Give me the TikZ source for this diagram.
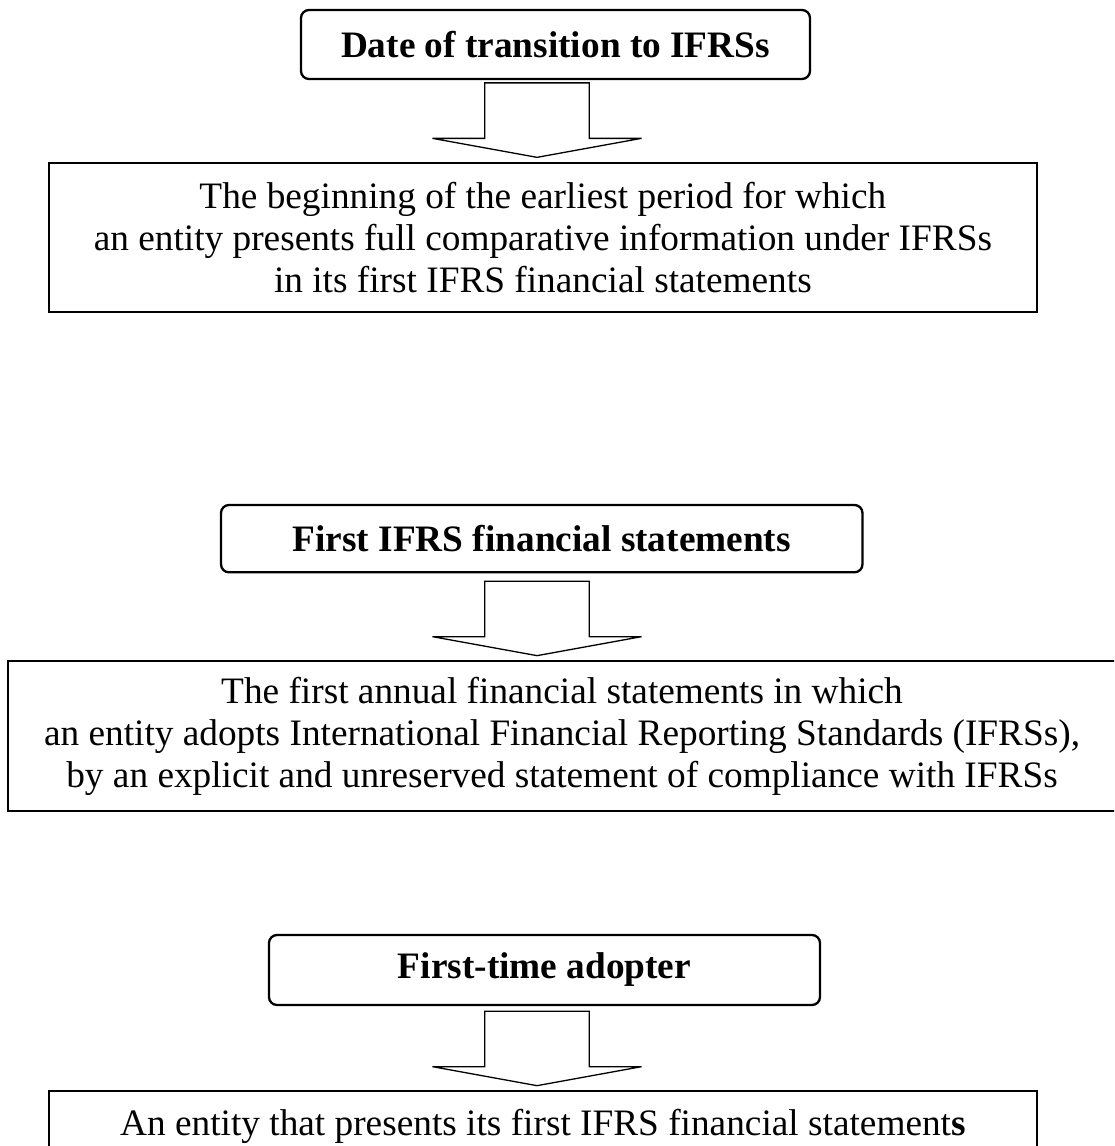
\documentclass[tikz,border=0pt]{standalone}
\usepackage{fontspec}
\setmainfont{Liberation Serif}

\tikzset{
	headbox/.style={draw, line width=2.3pt, rounded corners=8pt, inner sep=0pt,
		font=\fontsize{37.3pt}{42pt}\selectfont\bfseries},
	defbox/.style={draw, line width=2pt, inner sep=0pt, align=center,
		font=\fontsize{37.3pt}{42pt}\selectfont},
	blockarrow/.style={draw, line width=1.3pt, line join=miter},
}

\begin{document}
\begin{tikzpicture}[x=1pt, y=-1pt]
	\newcommand\shafthalf{52.25};
	\newcommand\headhalf{104.5};
	\newcommand\shaftlen{55.5};
	\newcommand\headlen{19};

	\path[use as bounding box] (0,0) rectangle (1114,1146);
	\clip (0,0) rectangle (1114,1146);

	\coordinate (axis) at (537,0);

	% the three terms
	\node[headbox, minimum width=509pt, minimum height=69pt] (date) at (555.5,44.5)
		{Date of transition to IFRSs};
	\node[headbox, minimum width=641.5pt, minimum height=67.3pt] (ifrsfs) at (541.75,538.65)
		{First IFRS financial statements};
	\node[headbox, minimum width=551pt, minimum height=70pt] (adopter) at (544.5,970)
		{First-time adopter};

	% what they mean
	\node[defbox, minimum width=988.3pt, minimum height=149pt] (datedef) at (542.85,237.2)
		{The beginning of the earliest period for which\\
		an entity presents full comparative information under IFRSs\\
		in its first IFRS financial statements};
	\node[defbox, minimum width=1108pt, minimum height=150pt] (ifrsfsdef) at (562,736)
		{The first annual financial statements in which\\
		an entity adopts International Financial Reporting Standards (IFRSs),\\
		by an explicit and unreserved statement of compliance with IFRSs};
	\node[defbox, minimum width=988.3pt, minimum height=72.3pt] (adopterdef) at (542.85,1126.85)
		{An entity that presents its first IFRS financial statement\textbf{s}};

	% hollow arrows down
	\foreach \src/\gap in {date/2.7, ifrsfs/7.7, adopter/5} {
		\draw[blockarrow] (\src.south -| axis) ++(0,\gap) ++(-\shafthalf,0)
			-- ++(0,\shaftlen) -- ++(-\shafthalf,0)
			-- ++(\headhalf,\headlen) -- ++(\headhalf,-\headlen)
			-- ++(-\shafthalf,0) -- ++(0,-\shaftlen) -- cycle;
	}
\end{tikzpicture}
\end{document}
